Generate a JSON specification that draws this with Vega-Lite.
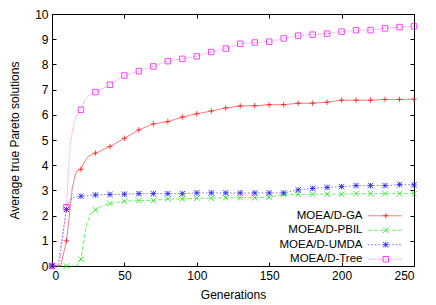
{
  "$schema": "https://vega.github.io/schema/vega-lite/v6.json",
  "width": 362,
  "height": 252,
  "autosize": {"type": "none"},
  "padding": {"left": 52, "top": 14, "right": 22, "bottom": 39},
  "config": {
    "font": "Liberation Sans",
    "view": {"stroke": "#000", "strokeWidth": 1},
    "axis": {
      "domain": false,
      "grid": false,
      "labelFontSize": 12,
      "titleFontSize": 12,
      "labelColor": "#000",
      "titleColor": "#000",
      "titleFontWeight": "normal",
      "tickColor": "#000",
      "tickSize": -4,
      "labelPadding": 8
    }
  },
  "data": {
    "values": [
      {"s": "MOEA/D-GA", "g": 0, "v": 0},
      {"s": "MOEA/D-GA", "g": 6, "v": 0},
      {"s": "MOEA/D-GA", "g": 10, "v": 1.0},
      {"s": "MOEA/D-GA", "g": 12, "v": 2.0},
      {"s": "MOEA/D-GA", "g": 14, "v": 3.1},
      {"s": "MOEA/D-GA", "g": 16, "v": 3.6},
      {"s": "MOEA/D-GA", "g": 17, "v": 3.75},
      {"s": "MOEA/D-GA", "g": 20, "v": 3.84},
      {"s": "MOEA/D-GA", "g": 22, "v": 4.1},
      {"s": "MOEA/D-GA", "g": 25, "v": 4.35},
      {"s": "MOEA/D-GA", "g": 30, "v": 4.48},
      {"s": "MOEA/D-GA", "g": 40, "v": 4.74},
      {"s": "MOEA/D-GA", "g": 50, "v": 5.07},
      {"s": "MOEA/D-GA", "g": 60, "v": 5.4},
      {"s": "MOEA/D-GA", "g": 70, "v": 5.64},
      {"s": "MOEA/D-GA", "g": 80, "v": 5.73},
      {"s": "MOEA/D-GA", "g": 90, "v": 5.91},
      {"s": "MOEA/D-GA", "g": 100, "v": 6.04},
      {"s": "MOEA/D-GA", "g": 110, "v": 6.15},
      {"s": "MOEA/D-GA", "g": 120, "v": 6.27},
      {"s": "MOEA/D-GA", "g": 130, "v": 6.35},
      {"s": "MOEA/D-GA", "g": 140, "v": 6.36},
      {"s": "MOEA/D-GA", "g": 150, "v": 6.4},
      {"s": "MOEA/D-GA", "g": 160, "v": 6.4},
      {"s": "MOEA/D-GA", "g": 170, "v": 6.46},
      {"s": "MOEA/D-GA", "g": 180, "v": 6.46},
      {"s": "MOEA/D-GA", "g": 190, "v": 6.5},
      {"s": "MOEA/D-GA", "g": 200, "v": 6.58},
      {"s": "MOEA/D-GA", "g": 210, "v": 6.58},
      {"s": "MOEA/D-GA", "g": 220, "v": 6.58},
      {"s": "MOEA/D-GA", "g": 230, "v": 6.61},
      {"s": "MOEA/D-GA", "g": 240, "v": 6.61},
      {"s": "MOEA/D-GA", "g": 250, "v": 6.62},
      {"s": "MOEA/D-PBIL", "g": 0, "v": 0},
      {"s": "MOEA/D-PBIL", "g": 10, "v": 0},
      {"s": "MOEA/D-PBIL", "g": 17, "v": 0},
      {"s": "MOEA/D-PBIL", "g": 20, "v": 0.27},
      {"s": "MOEA/D-PBIL", "g": 22, "v": 1.0},
      {"s": "MOEA/D-PBIL", "g": 24, "v": 1.7},
      {"s": "MOEA/D-PBIL", "g": 27, "v": 2.1},
      {"s": "MOEA/D-PBIL", "g": 30, "v": 2.23},
      {"s": "MOEA/D-PBIL", "g": 35, "v": 2.4},
      {"s": "MOEA/D-PBIL", "g": 40, "v": 2.48},
      {"s": "MOEA/D-PBIL", "g": 50, "v": 2.57},
      {"s": "MOEA/D-PBIL", "g": 60, "v": 2.6},
      {"s": "MOEA/D-PBIL", "g": 70, "v": 2.6},
      {"s": "MOEA/D-PBIL", "g": 80, "v": 2.66},
      {"s": "MOEA/D-PBIL", "g": 90, "v": 2.66},
      {"s": "MOEA/D-PBIL", "g": 100, "v": 2.69},
      {"s": "MOEA/D-PBIL", "g": 110, "v": 2.69},
      {"s": "MOEA/D-PBIL", "g": 120, "v": 2.71},
      {"s": "MOEA/D-PBIL", "g": 130, "v": 2.71},
      {"s": "MOEA/D-PBIL", "g": 140, "v": 2.71},
      {"s": "MOEA/D-PBIL", "g": 150, "v": 2.73},
      {"s": "MOEA/D-PBIL", "g": 160, "v": 2.84},
      {"s": "MOEA/D-PBIL", "g": 170, "v": 2.84},
      {"s": "MOEA/D-PBIL", "g": 180, "v": 2.85},
      {"s": "MOEA/D-PBIL", "g": 190, "v": 2.85},
      {"s": "MOEA/D-PBIL", "g": 200, "v": 2.85},
      {"s": "MOEA/D-PBIL", "g": 210, "v": 2.87},
      {"s": "MOEA/D-PBIL", "g": 220, "v": 2.87},
      {"s": "MOEA/D-PBIL", "g": 230, "v": 2.87},
      {"s": "MOEA/D-PBIL", "g": 240, "v": 2.87},
      {"s": "MOEA/D-PBIL", "g": 250, "v": 2.87},
      {"s": "MOEA/D-UMDA", "g": 0, "v": 0},
      {"s": "MOEA/D-UMDA", "g": 4, "v": 0},
      {"s": "MOEA/D-UMDA", "g": 10, "v": 2.24},
      {"s": "MOEA/D-UMDA", "g": 12, "v": 2.6},
      {"s": "MOEA/D-UMDA", "g": 15, "v": 2.72},
      {"s": "MOEA/D-UMDA", "g": 20, "v": 2.77},
      {"s": "MOEA/D-UMDA", "g": 30, "v": 2.82},
      {"s": "MOEA/D-UMDA", "g": 40, "v": 2.84},
      {"s": "MOEA/D-UMDA", "g": 50, "v": 2.85},
      {"s": "MOEA/D-UMDA", "g": 60, "v": 2.87},
      {"s": "MOEA/D-UMDA", "g": 70, "v": 2.87},
      {"s": "MOEA/D-UMDA", "g": 80, "v": 2.87},
      {"s": "MOEA/D-UMDA", "g": 90, "v": 2.87},
      {"s": "MOEA/D-UMDA", "g": 100, "v": 2.9},
      {"s": "MOEA/D-UMDA", "g": 110, "v": 2.9},
      {"s": "MOEA/D-UMDA", "g": 120, "v": 2.9},
      {"s": "MOEA/D-UMDA", "g": 130, "v": 2.9},
      {"s": "MOEA/D-UMDA", "g": 140, "v": 2.9},
      {"s": "MOEA/D-UMDA", "g": 150, "v": 2.9},
      {"s": "MOEA/D-UMDA", "g": 160, "v": 2.9},
      {"s": "MOEA/D-UMDA", "g": 170, "v": 3.02},
      {"s": "MOEA/D-UMDA", "g": 180, "v": 3.08},
      {"s": "MOEA/D-UMDA", "g": 190, "v": 3.12},
      {"s": "MOEA/D-UMDA", "g": 200, "v": 3.15},
      {"s": "MOEA/D-UMDA", "g": 210, "v": 3.19},
      {"s": "MOEA/D-UMDA", "g": 220, "v": 3.19},
      {"s": "MOEA/D-UMDA", "g": 230, "v": 3.19},
      {"s": "MOEA/D-UMDA", "g": 240, "v": 3.23},
      {"s": "MOEA/D-UMDA", "g": 250, "v": 3.22},
      {"s": "MOEA/D-Tree", "g": 0, "v": 0},
      {"s": "MOEA/D-Tree", "g": 5, "v": 0},
      {"s": "MOEA/D-Tree", "g": 10, "v": 2.33},
      {"s": "MOEA/D-Tree", "g": 11, "v": 3.5},
      {"s": "MOEA/D-Tree", "g": 12, "v": 4.4},
      {"s": "MOEA/D-Tree", "g": 13, "v": 5.0},
      {"s": "MOEA/D-Tree", "g": 15, "v": 5.6},
      {"s": "MOEA/D-Tree", "g": 17, "v": 5.95},
      {"s": "MOEA/D-Tree", "g": 20, "v": 6.2},
      {"s": "MOEA/D-Tree", "g": 23, "v": 6.6},
      {"s": "MOEA/D-Tree", "g": 26, "v": 6.8},
      {"s": "MOEA/D-Tree", "g": 30, "v": 6.9},
      {"s": "MOEA/D-Tree", "g": 40, "v": 7.19},
      {"s": "MOEA/D-Tree", "g": 50, "v": 7.56},
      {"s": "MOEA/D-Tree", "g": 60, "v": 7.73},
      {"s": "MOEA/D-Tree", "g": 70, "v": 7.92},
      {"s": "MOEA/D-Tree", "g": 80, "v": 8.13},
      {"s": "MOEA/D-Tree", "g": 90, "v": 8.22},
      {"s": "MOEA/D-Tree", "g": 100, "v": 8.32},
      {"s": "MOEA/D-Tree", "g": 110, "v": 8.49},
      {"s": "MOEA/D-Tree", "g": 120, "v": 8.63},
      {"s": "MOEA/D-Tree", "g": 130, "v": 8.82},
      {"s": "MOEA/D-Tree", "g": 140, "v": 8.87},
      {"s": "MOEA/D-Tree", "g": 150, "v": 8.9},
      {"s": "MOEA/D-Tree", "g": 160, "v": 9.03},
      {"s": "MOEA/D-Tree", "g": 170, "v": 9.14},
      {"s": "MOEA/D-Tree", "g": 180, "v": 9.18},
      {"s": "MOEA/D-Tree", "g": 190, "v": 9.22},
      {"s": "MOEA/D-Tree", "g": 200, "v": 9.3},
      {"s": "MOEA/D-Tree", "g": 210, "v": 9.36},
      {"s": "MOEA/D-Tree", "g": 220, "v": 9.36},
      {"s": "MOEA/D-Tree", "g": 230, "v": 9.43},
      {"s": "MOEA/D-Tree", "g": 240, "v": 9.48},
      {"s": "MOEA/D-Tree", "g": 250, "v": 9.51}
    ]
  },
  "layer": [
    {
      "mark": {"type": "line", "strokeWidth": 1, "strokeOpacity": 0.55},
      "encoding": {
        "x": {"field": "g", "type": "quantitative", "scale": {"domain": [0, 250], "nice": false},
          "axis": {"title": "Generations", "values": [0, 50, 100, 150, 200, 250], "titlePadding": 8}},
        "y": {"field": "v", "type": "quantitative", "scale": {"domain": [0, 10], "nice": false},
          "axis": {"title": "Average true Pareto solutions", "values": [0, 1, 2, 3, 4, 5, 6, 7, 8, 9, 10], "titlePadding": 13}},
        "color": {"field": "s", "type": "nominal",
          "scale": {"domain": ["MOEA/D-GA", "MOEA/D-PBIL", "MOEA/D-UMDA", "MOEA/D-Tree"], "range": ["#ff0000", "#00e000", "#0000ff", "#ff00ff"]},
          "legend": {"title": null, "orient": "none", "legendX": 327, "legendY": 196, "symbolType": "M-5,0H5", "symbolSize": 46, "symbolStrokeWidth": 1, "symbolOpacity": 0.55, "labelAlign": "right", "labelOffset": -28, "labelFontSize": 11.5, "labelColor": "#000", "rowPadding": 1.5, "padding": 0, "labelLimit": 200}},
        "strokeDash": {"field": "s", "type": "nominal",
          "scale": {"domain": ["MOEA/D-GA", "MOEA/D-PBIL", "MOEA/D-UMDA", "MOEA/D-Tree"], "range": [[1, 0], [4, 2], [1.5, 2], [1, 1.5]]},
          "legend": {"title": null, "orient": "none", "legendX": 327, "legendY": 196, "symbolType": "M-5,0H5", "symbolSize": 46, "symbolStrokeWidth": 1, "symbolOpacity": 0.55, "labelAlign": "right", "labelOffset": -28, "labelFontSize": 11.5, "labelColor": "#000", "rowPadding": 1.5, "padding": 0, "labelLimit": 200}}
      }
    },
    {
      "transform": [{"filter": "datum.g % 10 == 0"}],
      "mark": {"type": "point", "filled": false, "size": 30, "strokeWidth": 0.9, "opacity": 0.8},
      "encoding": {
        "x": {"field": "g", "type": "quantitative", "axis": {"orient": "top", "labels": false, "title": null, "values": [0, 50, 100, 150, 200, 250]}},
        "y": {"field": "v", "type": "quantitative", "axis": {"orient": "right", "labels": false, "title": null, "values": [0, 1, 2, 3, 4, 5, 6, 7, 8, 9, 10]}},
        "color": {"field": "s", "type": "nominal",
          "scale": {"domain": ["MOEA/D-GA", "MOEA/D-PBIL", "MOEA/D-UMDA", "MOEA/D-Tree"], "range": ["#ff0000", "#00e000", "#0000ff", "#ff00ff"]},
          "legend": {"title": null, "orient": "none", "legendX": 328, "legendY": 196, "labelExpr": "' '", "labelFontSize": 11.5, "labelLimit": 10, "rowPadding": 1.5, "padding": 0, "symbolSize": 30, "symbolStrokeWidth": 0.9, "symbolOpacity": 0.8}},
        "shape": {"field": "s", "type": "nominal",
          "scale": {"domain": ["MOEA/D-GA", "MOEA/D-PBIL", "MOEA/D-UMDA", "MOEA/D-Tree"], "range": ["M-1,0H1M0,-1V1", "M-1,-1L1,1M-1,1L1,-1", "M-1,0H1M0,-1V1M-1,-1L1,1M-1,1L1,-1", "square"]},
          "legend": {"title": null, "orient": "none", "legendX": 328, "legendY": 196, "labelExpr": "' '", "labelFontSize": 11.5, "labelLimit": 10, "rowPadding": 1.5, "padding": 0, "symbolSize": 30, "symbolStrokeWidth": 0.9, "symbolOpacity": 0.8}}
      }
    }
  ],
  "resolve": {
    "axis": {"x": "independent", "y": "independent"},
    "legend": {"color": "independent", "strokeDash": "independent", "shape": "independent"}
  }
}
